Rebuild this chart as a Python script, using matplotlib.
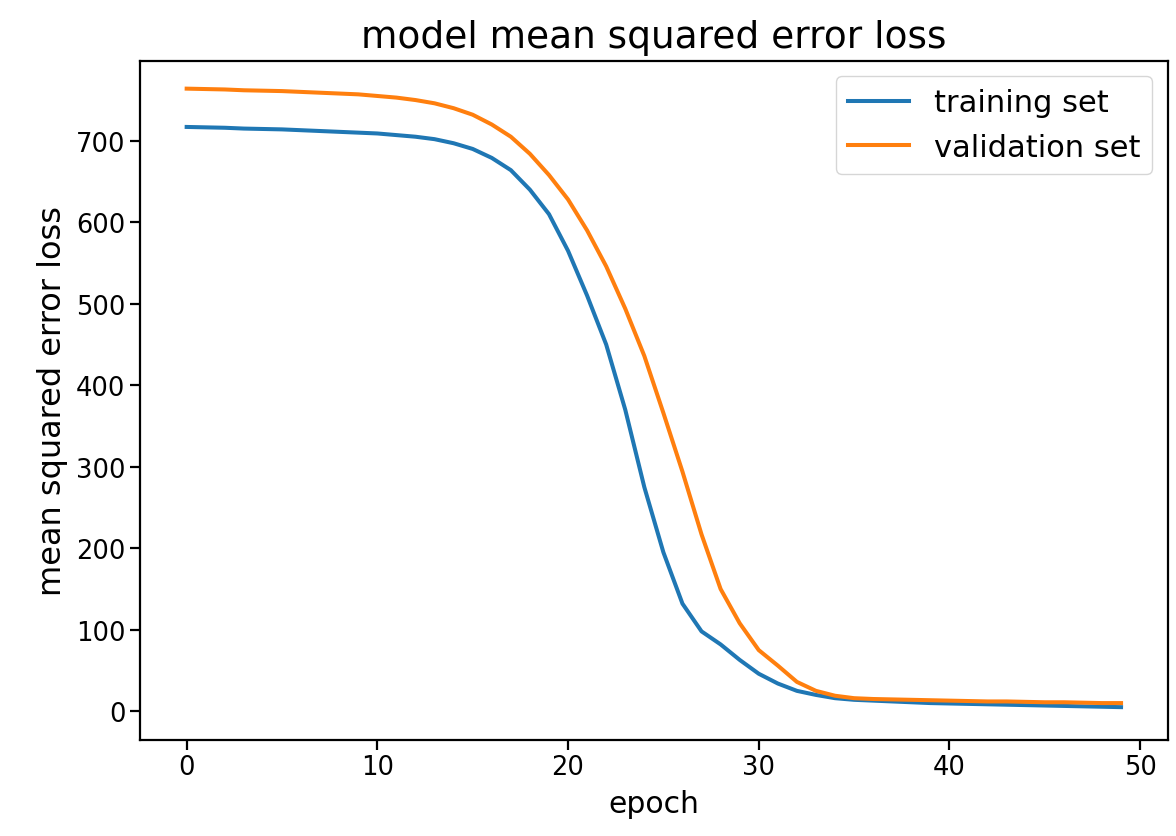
import matplotlib
matplotlib.use('Agg')
import matplotlib.pyplot as plt

# loss per epoch
epochs = list(range(50))
training_loss = [
    717, 716.5, 716, 715, 714.5, 714, 713, 712, 711, 710,
    709, 707, 705, 702, 697, 690, 679, 664, 640, 610,
    565, 510, 450, 370, 275, 195, 132, 98, 82, 63,
    46, 34, 25, 20, 16, 14, 13, 12, 11, 10,
    9.5, 9, 8.5, 8, 7.5, 7, 6.5, 6, 5.5, 5,
]
validation_loss = [
    764, 763.5, 763, 762, 761.5, 761, 760, 759, 758, 757,
    755, 753, 750, 746, 740, 732, 720, 705, 684, 658,
    628, 590, 546, 494, 436, 366, 294, 217, 150, 108,
    75, 56, 36, 25, 19, 16, 15, 14.5, 14, 13.5,
    13, 12.5, 12, 12, 11.5, 11, 11, 10.5, 10, 10,
]
series_labels = ['training set', 'validation set']

fig = plt.figure(figsize=(11.76, 8.37), dpi=100)
ax = fig.add_axes([0.119, 0.115, 0.874, 0.811])

ax.plot(epochs, training_loss, color='#1f77b4', linewidth=2.9, label=series_labels[0])
ax.plot(epochs, validation_loss, color='#ff7f0e', linewidth=2.9, label=series_labels[1])

ax.set_ylim(-35, 798)
ax.set_title('model mean squared error loss', fontsize=27, pad=10)
ax.set_xlabel('epoch', fontsize=21.5, labelpad=6)
ax.set_ylabel('mean squared error loss', fontsize=23, labelpad=6)
ax.tick_params(labelsize=18.5, width=1.6, length=7)
for s in ax.spines.values():
    s.set_linewidth(1.6)

ax.legend(loc='upper right', fontsize=22, borderaxespad=0.5)

fig.savefig('out.png', dpi=100)
